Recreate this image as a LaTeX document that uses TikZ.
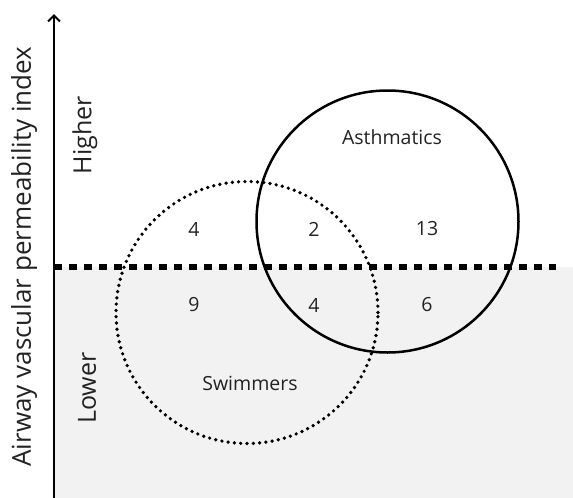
\documentclass[tikz,border=0pt]{standalone}
\usepackage{fontspec}
\setmainfont{Open Sans}
\usetikzlibrary{arrows.meta}
\definecolor{lowgray}{HTML}{F2F2F2}
\definecolor{txt}{HTML}{222222}
\tikzset{
  lbl/.style={font=\fontsize{19.5}{22}\selectfont, text=txt, inner sep=0pt},
  axislbl/.style={font=\fontsize{25}{28}\selectfont, text=txt, inner sep=0pt, rotate=90},
  setcircle/.style={circle, minimum size=262pt, inner sep=0pt},
}
\begin{document}
\begin{tikzpicture}[x=1pt,y=-1pt]
\useasboundingbox (0,0) rectangle (573,498);
% lower region
\fill[lowgray] (54,267) rectangle (573,498);
% threshold line
\coordinate (tl) at (54,267);
\coordinate (tr) at (556,267);
\draw[line width=6.5pt, dash pattern=on 7.5pt off 7.5pt] (tl) -- (tr);
% circles
\node[setcircle, draw, line width=2.5pt] (asth) at (387.5,221.5) {};
\node[setcircle, draw, line width=3.7pt, line cap=round, dash pattern=on 0pt off 6.3pt] (swim) at (247,312.5) {};
% axis
\coordinate (ab) at (54,498);
\coordinate (at) at (54,14);
\draw[line width=2pt, -{Straight Barb[length=6pt,width=12pt,line width=2pt]}] (ab) -- (at);
% labels
\node[axislbl, font=\fontsize{26}{30}\selectfont] (ylab) at (24,256.5) {Airway vascular permeability index};
\node[axislbl] (hi) at (85,135) {Higher};
\node[axislbl] (lo) at (87,388) {Lower};
\node[lbl] (nA) at (392,137) {Asthmatics};
\node[lbl] (nS) at (250,383) {Swimmers};
\node[lbl] (n1) at (194,229) {4};
\node[lbl] (n2) at (314,229) {2};
\node[lbl] (n3) at (427,229) {13};
\node[lbl] (n4) at (194,305) {9};
\node[lbl] (n5) at (314,305) {4};
\node[lbl] (n6) at (427,305) {6};
\end{tikzpicture}
\end{document}
